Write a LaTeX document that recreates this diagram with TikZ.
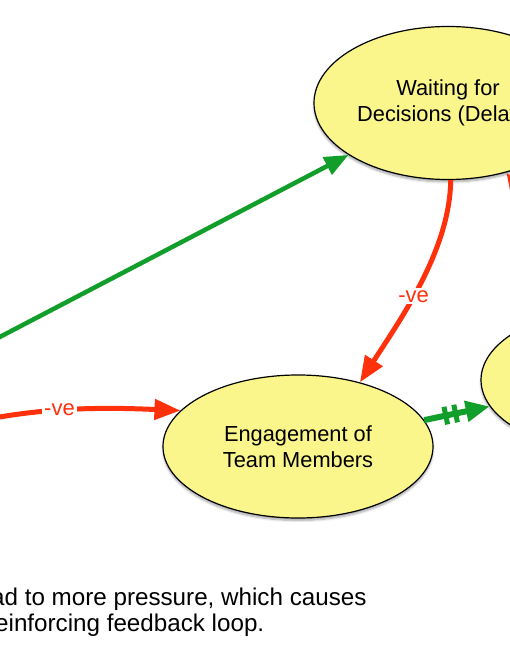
\documentclass[tikz,border=0pt]{standalone}
\usepackage{fontspec}
\setmainfont{Liberation Sans}
\usetikzlibrary{arrows.meta,shapes.geometric,decorations.markings,shadows.blur}
\definecolor{nodeyellow}{RGB}{250,246,140}
\definecolor{arrgreen}{RGB}{18,158,42}
\definecolor{arrred}{RGB}{255,48,12}
\begin{document}
\begin{tikzpicture}[x=1pt,y=-1pt,
  concept/.style={ellipse, draw=black, line width=1.2pt, fill=nodeyellow, inner sep=0pt,
    align=center, font=\fontsize{21.8}{26}\selectfont,
    blur shadow={shadow xshift=0pt, shadow yshift=-2.5pt, shadow blur steps=6, shadow opacity=35}},
  posarrow/.style={draw=arrgreen, line width=4.5pt, -{Triangle[length=24pt,width=19pt]}},
  delayarrow/.style={draw=arrgreen, line width=6pt, -{Triangle[length=24pt,width=20pt]}},
  negarrow/.style={draw=arrred, line width=5pt, -{Triangle[length=26pt,width=20pt]}},
  neglabel/.style={fill=white, text=arrred, font=\fontsize{22}{22}\selectfont, inner sep=2pt},
  foottext/.style={anchor=base west, inner sep=0pt, font=\fontsize{24.2}{28}\selectfont}
]
\useasboundingbox (0,0) rectangle (510,650);
\clip (0,0) rectangle (510,650);

% nodes
\node[concept, minimum width=268pt, minimum height=153pt] (wait) at (448,103) {Waiting for\\Decisions (Delays)};
\node[concept, minimum width=270pt, minimum height=143pt] (eng) at (298,446.5) {Engagement of\\Team Members};
\node[concept, minimum width=270pt, minimum height=144pt] (rnode) at (616,380) {};

% free ends
\coordinate (gs) at (-6,340);
\coordinate (ls) at (-6,418);
\coordinate (rs) at (535,215);

% connectors
\draw[posarrow] (gs) -- (wait);
\draw[negarrow] (wait.-88) .. controls (450,250) and (400,320) .. (eng.46)
  node[neglabel, pos=0.56] {-ve};
\draw[negarrow] (ls) .. controls (60,406) and (120,408) .. (eng.163)
  node[neglabel, pos=0.34] {-ve};
\draw[negarrow] (rs) -- (wait.-50);
\draw[delayarrow, postaction={decorate}, decoration={markings,
    mark=at position 0.33 with {\fill[arrgreen] (-2.5,-9) rectangle (2.5,9);},
    mark=at position 0.48 with {\fill[arrgreen] (-2.5,-9) rectangle (2.5,9);}}]
  (eng) -- (rnode);

% footer text
\node[foottext] (foot1) at (-9,605) {ad to more pressure, which causes};
\node[foottext] (foot2) at (-5,631) {einforcing feedback loop.};
\end{tikzpicture}
\end{document}
